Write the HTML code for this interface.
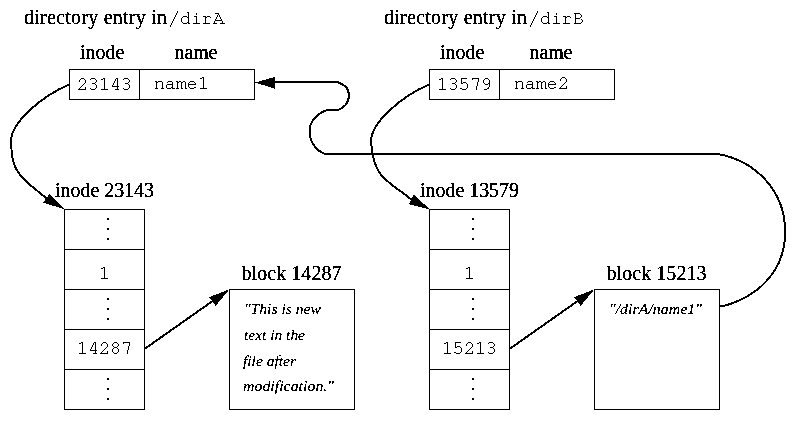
<!DOCTYPE html>
<html><head><meta charset="utf-8"><title>directory entries</title><style>
html,body{margin:0;padding:0;background:#fff;width:801px;height:421px;overflow:hidden}
svg{display:block;will-change:transform}
.s{font-family:"Liberation Serif",serif;font-size:20px;fill:#000;stroke:#000;stroke-width:0.3px;filter:url(#th)}
.i{font-family:"Liberation Serif",serif;font-style:italic;font-size:15.5px;fill:#000;stroke:#000;stroke-width:0.18px;filter:url(#th)}
.b{fill:none;stroke:#000;stroke-width:1}
.c{fill:none;stroke:#000;stroke-width:2;shape-rendering:crispEdges}
</style></head><body>
<svg width="801" height="421" viewBox="0 0 801 421">
<defs><filter id="th" x="-5%" y="-20%" width="110%" height="140%" color-interpolation-filters="sRGB"><feComponentTransfer><feFuncA type="discrete" tableValues="0 1"/></feComponentTransfer></filter></defs>
<rect x="0" y="0" width="801" height="421" fill="#fff"/>

<!-- ===== Left directory entry ===== -->
<g>
  <text class="s" x="24" y="24" textLength="143" lengthAdjust="spacing">directory entry in</text>
  <text class="s" x="80" y="59" textLength="44.5" lengthAdjust="spacing">inode</text>
  <text class="s" x="174.5" y="59" textLength="43" lengthAdjust="spacing">name</text>
  <g shape-rendering="crispEdges">
    <rect class="b" x="69.5" y="69.5" width="185" height="30"/>
    <line class="b" x1="139.5" y1="69.5" x2="139.5" y2="99.5"/>
  </g>
</g>

<!-- ===== Right directory entry ===== -->
<g transform="translate(360,0)">
  <text class="s" x="24" y="24" textLength="143" lengthAdjust="spacing">directory entry in</text>
  <text class="s" x="80" y="59" textLength="44.5" lengthAdjust="spacing">inode</text>
  <text class="s" x="169.5" y="59" textLength="43" lengthAdjust="spacing">name</text>
  <g shape-rendering="crispEdges">
    <rect class="b" x="69.5" y="69.5" width="185" height="30"/>
    <line class="b" x1="139.5" y1="69.5" x2="139.5" y2="99.5"/>
  </g>
</g>

<!-- ===== Left inode + block ===== -->
<g>
  <text class="s" x="55" y="197" textLength="99" lengthAdjust="spacing">inode 23143</text>
  <g shape-rendering="crispEdges">
    <rect class="b" x="64.5" y="209.5" width="80" height="200"/>
    <line class="b" x1="64.5" y1="249.5" x2="144.5" y2="249.5"/>
    <line class="b" x1="64.5" y1="289.5" x2="144.5" y2="289.5"/>
    <line class="b" x1="64.5" y1="329.5" x2="144.5" y2="329.5"/>
    <line class="b" x1="64.5" y1="369.5" x2="144.5" y2="369.5"/>
    <rect x="107" y="218" width="2" height="2"/><rect x="107" y="228" width="2" height="2"/><rect x="107" y="238" width="2" height="2"/>
    <rect x="107" y="298" width="2" height="2"/><rect x="107" y="308" width="2" height="2"/><rect x="107" y="318" width="2" height="2"/>
    <rect x="107" y="378" width="2" height="2"/><rect x="107" y="388" width="2" height="2"/><rect x="107" y="398" width="2" height="2"/>
    <rect class="b" x="229.5" y="289.5" width="125" height="120"/>
  </g>
  <text class="s" x="241.5" y="280" textLength="100" lengthAdjust="spacing">block 14287</text>
  <text class="i" x="244" y="314" textLength="77" lengthAdjust="spacingAndGlyphs">"This is new</text>
  <text class="i" x="244" y="340" textLength="61" lengthAdjust="spacingAndGlyphs">text in the</text>
  <text class="i" x="243" y="365.5" textLength="53" lengthAdjust="spacingAndGlyphs">file after</text>
  <text class="i" x="243" y="391" textLength="91" lengthAdjust="spacingAndGlyphs">modification."</text>
  <!-- arrow cell -> block -->
  <line class="c" x1="144.5" y1="349" x2="213" y2="300.8"/>
  <polygon shape-rendering="crispEdges" points="229.4,289.4 209,297.2 215.6,305.9"/>
</g>

<!-- ===== Right inode + block ===== -->
<g transform="translate(365,0)">
  <text class="s" x="55" y="197" textLength="99" lengthAdjust="spacing">inode 13579</text>
  <g shape-rendering="crispEdges">
    <rect class="b" x="64.5" y="209.5" width="80" height="200"/>
    <line class="b" x1="64.5" y1="249.5" x2="144.5" y2="249.5"/>
    <line class="b" x1="64.5" y1="289.5" x2="144.5" y2="289.5"/>
    <line class="b" x1="64.5" y1="329.5" x2="144.5" y2="329.5"/>
    <line class="b" x1="64.5" y1="369.5" x2="144.5" y2="369.5"/>
    <rect x="107" y="218" width="2" height="2"/><rect x="107" y="228" width="2" height="2"/><rect x="107" y="238" width="2" height="2"/>
    <rect x="107" y="298" width="2" height="2"/><rect x="107" y="308" width="2" height="2"/><rect x="107" y="318" width="2" height="2"/>
    <rect x="107" y="378" width="2" height="2"/><rect x="107" y="388" width="2" height="2"/><rect x="107" y="398" width="2" height="2"/>
    <rect class="b" x="229.5" y="289.5" width="125" height="120"/>
  </g>
  <text class="s" x="241.5" y="280" textLength="100" lengthAdjust="spacing">block 15213</text>
  <text class="i" x="244" y="314" textLength="93" lengthAdjust="spacingAndGlyphs">"/dirA/name1"</text>
  <line class="c" x1="144.5" y1="349" x2="213" y2="300.8"/>
  <polygon shape-rendering="crispEdges" points="229.4,289.4 209,297.2 215.6,305.9"/>
</g>

<!-- Courier bitmap text -->
<path d="M177 11h1v1h-1zM537 11h1v1h-1zM177 12h1v1h-1zM187 12h2v1h-2zM537 12h1v1h-1zM547 12h2v1h-2zM176 13h1v1h-1zM188 13h1v1h-1zM196 13h1v1h-1zM215 13h4v1h-4zM536 13h1v1h-1zM548 13h1v1h-1zM556 13h1v1h-1zM574 13h6v1h-6zM176 14h1v1h-1zM188 14h1v1h-1zM196 14h1v1h-1zM218 14h1v1h-1zM536 14h1v1h-1zM548 14h1v1h-1zM556 14h1v1h-1zM575 14h1v1h-1zM580 14h1v1h-1zM175 15h1v1h-1zM188 15h1v1h-1zM217 15h1v1h-1zM219 15h1v1h-1zM535 15h1v1h-1zM548 15h1v1h-1zM575 15h1v1h-1zM581 15h1v1h-1zM175 16h1v1h-1zM183 16h4v1h-4zM188 16h1v1h-1zM194 16h3v1h-3zM203 16h3v1h-3zM207 16h3v1h-3zM217 16h1v1h-1zM219 16h1v1h-1zM535 16h1v1h-1zM543 16h4v1h-4zM548 16h1v1h-1zM554 16h3v1h-3zM563 16h3v1h-3zM567 16h3v1h-3zM575 16h1v1h-1zM581 16h1v1h-1zM174 17h1v1h-1zM182 17h1v1h-1zM187 17h2v1h-2zM196 17h1v1h-1zM205 17h2v1h-2zM210 17h1v1h-1zM216 17h1v1h-1zM220 17h1v1h-1zM534 17h1v1h-1zM542 17h1v1h-1zM547 17h2v1h-2zM556 17h1v1h-1zM565 17h2v1h-2zM570 17h1v1h-1zM575 17h1v1h-1zM580 17h1v1h-1zM174 18h1v1h-1zM181 18h1v1h-1zM188 18h1v1h-1zM196 18h1v1h-1zM205 18h1v1h-1zM216 18h1v1h-1zM220 18h1v1h-1zM534 18h1v1h-1zM541 18h1v1h-1zM548 18h1v1h-1zM556 18h1v1h-1zM565 18h1v1h-1zM575 18h5v1h-5zM173 19h1v1h-1zM181 19h1v1h-1zM188 19h1v1h-1zM196 19h1v1h-1zM205 19h1v1h-1zM215 19h1v1h-1zM221 19h1v1h-1zM533 19h1v1h-1zM541 19h1v1h-1zM548 19h1v1h-1zM556 19h1v1h-1zM565 19h1v1h-1zM575 19h1v1h-1zM581 19h1v1h-1zM173 20h1v1h-1zM181 20h1v1h-1zM188 20h1v1h-1zM196 20h1v1h-1zM205 20h1v1h-1zM215 20h7v1h-7zM533 20h1v1h-1zM541 20h1v1h-1zM548 20h1v1h-1zM556 20h1v1h-1zM565 20h1v1h-1zM575 20h1v1h-1zM582 20h1v1h-1zM172 21h1v1h-1zM181 21h1v1h-1zM188 21h1v1h-1zM196 21h1v1h-1zM205 21h1v1h-1zM214 21h1v1h-1zM222 21h1v1h-1zM532 21h1v1h-1zM541 21h1v1h-1zM548 21h1v1h-1zM556 21h1v1h-1zM565 21h1v1h-1zM575 21h1v1h-1zM582 21h1v1h-1zM172 22h1v1h-1zM182 22h1v1h-1zM187 22h2v1h-2zM196 22h1v1h-1zM205 22h1v1h-1zM214 22h1v1h-1zM222 22h1v1h-1zM532 22h1v1h-1zM542 22h1v1h-1zM547 22h2v1h-2zM556 22h1v1h-1zM565 22h1v1h-1zM575 22h1v1h-1zM581 22h1v1h-1zM171 23h1v1h-1zM183 23h4v1h-4zM188 23h2v1h-2zM193 23h7v1h-7zM203 23h7v1h-7zM213 23h4v1h-4zM220 23h5v1h-5zM531 23h1v1h-1zM543 23h4v1h-4zM548 23h2v1h-2zM553 23h7v1h-7zM563 23h7v1h-7zM574 23h7v1h-7zM171 24h1v1h-1zM531 24h1v1h-1zM170 25h1v1h-1zM530 25h1v1h-1zM170 26h1v1h-1zM530 26h1v1h-1zM202 77h2v1h-2zM562 77h3v1h-3zM81 78h3v1h-3zM91 78h4v1h-4zM103 78h2v1h-2zM116 78h2v1h-2zM124 78h4v1h-4zM200 78h2v1h-2zM203 78h1v1h-1zM441 78h2v1h-2zM451 78h4v1h-4zM461 78h6v1h-6zM472 78h7v1h-7zM485 78h3v1h-3zM561 78h1v1h-1zM565 78h1v1h-1zM80 79h1v1h-1zM84 79h1v1h-1zM90 79h1v1h-1zM95 79h1v1h-1zM101 79h2v1h-2zM104 79h1v1h-1zM115 79h1v1h-1zM117 79h1v1h-1zM123 79h1v1h-1zM128 79h1v1h-1zM203 79h1v1h-1zM439 79h2v1h-2zM442 79h1v1h-1zM450 79h1v1h-1zM455 79h1v1h-1zM461 79h1v1h-1zM472 79h1v1h-1zM478 79h1v1h-1zM484 79h1v1h-1zM488 79h1v1h-1zM560 79h1v1h-1zM566 79h1v1h-1zM79 80h1v1h-1zM85 80h1v1h-1zM96 80h1v1h-1zM104 80h1v1h-1zM115 80h1v1h-1zM117 80h1v1h-1zM129 80h1v1h-1zM203 80h1v1h-1zM442 80h1v1h-1zM456 80h1v1h-1zM461 80h1v1h-1zM478 80h1v1h-1zM483 80h1v1h-1zM489 80h1v1h-1zM560 80h1v1h-1zM566 80h1v1h-1zM79 81h1v1h-1zM85 81h1v1h-1zM96 81h1v1h-1zM104 81h1v1h-1zM114 81h1v1h-1zM117 81h1v1h-1zM129 81h1v1h-1zM155 81h2v1h-2zM158 81h4v1h-4zM168 81h4v1h-4zM176 81h2v1h-2zM179 81h2v1h-2zM183 81h2v1h-2zM190 81h4v1h-4zM203 81h1v1h-1zM442 81h1v1h-1zM456 81h1v1h-1zM461 81h1v1h-1zM478 81h1v1h-1zM483 81h1v1h-1zM489 81h1v1h-1zM515 81h2v1h-2zM518 81h4v1h-4zM528 81h4v1h-4zM536 81h2v1h-2zM539 81h2v1h-2zM543 81h2v1h-2zM550 81h4v1h-4zM566 81h1v1h-1zM85 82h1v1h-1zM95 82h1v1h-1zM104 82h1v1h-1zM114 82h1v1h-1zM117 82h1v1h-1zM128 82h1v1h-1zM156 82h2v1h-2zM162 82h1v1h-1zM167 82h1v1h-1zM172 82h1v1h-1zM177 82h2v1h-2zM181 82h2v1h-2zM185 82h1v1h-1zM189 82h1v1h-1zM194 82h1v1h-1zM203 82h1v1h-1zM442 82h1v1h-1zM455 82h1v1h-1zM461 82h1v1h-1zM463 82h3v1h-3zM477 82h1v1h-1zM483 82h1v1h-1zM489 82h1v1h-1zM516 82h2v1h-2zM522 82h1v1h-1zM527 82h1v1h-1zM532 82h1v1h-1zM537 82h2v1h-2zM541 82h2v1h-2zM545 82h1v1h-1zM549 82h1v1h-1zM554 82h1v1h-1zM565 82h1v1h-1zM84 83h1v1h-1zM92 83h3v1h-3zM104 83h1v1h-1zM113 83h1v1h-1zM117 83h1v1h-1zM125 83h3v1h-3zM156 83h1v1h-1zM162 83h1v1h-1zM172 83h1v1h-1zM177 83h1v1h-1zM181 83h1v1h-1zM185 83h1v1h-1zM188 83h1v1h-1zM195 83h1v1h-1zM203 83h1v1h-1zM442 83h1v1h-1zM452 83h3v1h-3zM461 83h2v1h-2zM466 83h1v1h-1zM477 83h1v1h-1zM484 83h1v1h-1zM488 83h2v1h-2zM516 83h1v1h-1zM522 83h1v1h-1zM532 83h1v1h-1zM537 83h1v1h-1zM541 83h1v1h-1zM545 83h1v1h-1zM548 83h1v1h-1zM555 83h1v1h-1zM564 83h1v1h-1zM83 84h1v1h-1zM95 84h1v1h-1zM104 84h1v1h-1zM113 84h1v1h-1zM117 84h1v1h-1zM128 84h1v1h-1zM156 84h1v1h-1zM162 84h1v1h-1zM167 84h6v1h-6zM177 84h1v1h-1zM181 84h1v1h-1zM185 84h1v1h-1zM188 84h8v1h-8zM203 84h1v1h-1zM442 84h1v1h-1zM455 84h1v1h-1zM467 84h1v1h-1zM477 84h1v1h-1zM485 84h3v1h-3zM489 84h1v1h-1zM516 84h1v1h-1zM522 84h1v1h-1zM527 84h6v1h-6zM537 84h1v1h-1zM541 84h1v1h-1zM545 84h1v1h-1zM548 84h8v1h-8zM563 84h1v1h-1zM82 85h1v1h-1zM96 85h1v1h-1zM104 85h1v1h-1zM112 85h1v1h-1zM117 85h1v1h-1zM129 85h1v1h-1zM156 85h1v1h-1zM162 85h1v1h-1zM166 85h1v1h-1zM172 85h1v1h-1zM177 85h1v1h-1zM181 85h1v1h-1zM185 85h1v1h-1zM188 85h1v1h-1zM203 85h1v1h-1zM442 85h1v1h-1zM456 85h1v1h-1zM467 85h1v1h-1zM477 85h1v1h-1zM489 85h1v1h-1zM516 85h1v1h-1zM522 85h1v1h-1zM526 85h1v1h-1zM532 85h1v1h-1zM537 85h1v1h-1zM541 85h1v1h-1zM545 85h1v1h-1zM548 85h1v1h-1zM562 85h1v1h-1zM81 86h1v1h-1zM96 86h1v1h-1zM104 86h1v1h-1zM112 86h7v1h-7zM129 86h1v1h-1zM156 86h1v1h-1zM162 86h1v1h-1zM166 86h1v1h-1zM172 86h1v1h-1zM177 86h1v1h-1zM181 86h1v1h-1zM185 86h1v1h-1zM188 86h1v1h-1zM203 86h1v1h-1zM442 86h1v1h-1zM456 86h1v1h-1zM467 86h1v1h-1zM476 86h1v1h-1zM489 86h1v1h-1zM516 86h1v1h-1zM522 86h1v1h-1zM526 86h1v1h-1zM532 86h1v1h-1zM537 86h1v1h-1zM541 86h1v1h-1zM545 86h1v1h-1zM548 86h1v1h-1zM561 86h1v1h-1zM566 86h1v1h-1zM80 87h1v1h-1zM85 87h1v1h-1zM96 87h1v1h-1zM104 87h1v1h-1zM117 87h1v1h-1zM129 87h1v1h-1zM156 87h1v1h-1zM162 87h1v1h-1zM166 87h1v1h-1zM171 87h2v1h-2zM177 87h1v1h-1zM181 87h1v1h-1zM185 87h1v1h-1zM189 87h1v1h-1zM194 87h2v1h-2zM203 87h1v1h-1zM442 87h1v1h-1zM456 87h1v1h-1zM467 87h1v1h-1zM476 87h1v1h-1zM488 87h1v1h-1zM516 87h1v1h-1zM522 87h1v1h-1zM526 87h1v1h-1zM531 87h2v1h-2zM537 87h1v1h-1zM541 87h1v1h-1zM545 87h1v1h-1zM549 87h1v1h-1zM554 87h2v1h-2zM560 87h1v1h-1zM566 87h1v1h-1zM79 88h1v1h-1zM85 88h1v1h-1zM90 88h1v1h-1zM95 88h1v1h-1zM104 88h1v1h-1zM117 88h1v1h-1zM123 88h1v1h-1zM128 88h1v1h-1zM155 88h3v1h-3zM161 88h3v1h-3zM167 88h4v1h-4zM172 88h3v1h-3zM176 88h3v1h-3zM181 88h2v1h-2zM185 88h2v1h-2zM190 88h4v1h-4zM200 88h7v1h-7zM442 88h1v1h-1zM450 88h1v1h-1zM455 88h1v1h-1zM460 88h2v1h-2zM466 88h1v1h-1zM476 88h1v1h-1zM487 88h2v1h-2zM515 88h3v1h-3zM521 88h3v1h-3zM527 88h4v1h-4zM532 88h3v1h-3zM536 88h3v1h-3zM541 88h2v1h-2zM545 88h2v1h-2zM550 88h4v1h-4zM559 88h8v1h-8zM78 89h8v1h-8zM91 89h4v1h-4zM101 89h7v1h-7zM115 89h4v1h-4zM124 89h4v1h-4zM439 89h7v1h-7zM451 89h4v1h-4zM462 89h4v1h-4zM476 89h1v1h-1zM484 89h3v1h-3zM103 267h2v1h-2zM468 267h2v1h-2zM101 268h2v1h-2zM104 268h1v1h-1zM466 268h2v1h-2zM469 268h1v1h-1zM104 269h1v1h-1zM469 269h1v1h-1zM104 270h1v1h-1zM469 270h1v1h-1zM104 271h1v1h-1zM469 271h1v1h-1zM104 272h1v1h-1zM469 272h1v1h-1zM104 273h1v1h-1zM469 273h1v1h-1zM104 274h1v1h-1zM469 274h1v1h-1zM104 275h1v1h-1zM469 275h1v1h-1zM104 276h1v1h-1zM469 276h1v1h-1zM104 277h1v1h-1zM469 277h1v1h-1zM101 278h7v1h-7zM466 278h7v1h-7zM81 342h2v1h-2zM94 342h2v1h-2zM103 342h3v1h-3zM114 342h3v1h-3zM123 342h7v1h-7zM446 342h2v1h-2zM455 342h6v1h-6zM468 342h3v1h-3zM479 342h2v1h-2zM489 342h4v1h-4zM79 343h2v1h-2zM82 343h1v1h-1zM93 343h1v1h-1zM95 343h1v1h-1zM102 343h1v1h-1zM106 343h1v1h-1zM113 343h1v1h-1zM117 343h1v1h-1zM123 343h1v1h-1zM129 343h1v1h-1zM444 343h2v1h-2zM447 343h1v1h-1zM455 343h1v1h-1zM467 343h1v1h-1zM471 343h1v1h-1zM477 343h2v1h-2zM480 343h1v1h-1zM488 343h1v1h-1zM493 343h1v1h-1zM82 344h1v1h-1zM93 344h1v1h-1zM95 344h1v1h-1zM101 344h1v1h-1zM107 344h1v1h-1zM112 344h1v1h-1zM118 344h1v1h-1zM129 344h1v1h-1zM447 344h1v1h-1zM455 344h1v1h-1zM466 344h1v1h-1zM472 344h1v1h-1zM480 344h1v1h-1zM494 344h1v1h-1zM82 345h1v1h-1zM92 345h1v1h-1zM95 345h1v1h-1zM101 345h1v1h-1zM107 345h1v1h-1zM112 345h1v1h-1zM118 345h1v1h-1zM129 345h1v1h-1zM447 345h1v1h-1zM455 345h1v1h-1zM466 345h1v1h-1zM472 345h1v1h-1zM480 345h1v1h-1zM494 345h1v1h-1zM82 346h1v1h-1zM92 346h1v1h-1zM95 346h1v1h-1zM107 346h1v1h-1zM113 346h1v1h-1zM117 346h1v1h-1zM128 346h1v1h-1zM447 346h1v1h-1zM455 346h1v1h-1zM457 346h3v1h-3zM472 346h1v1h-1zM480 346h1v1h-1zM493 346h1v1h-1zM82 347h1v1h-1zM91 347h1v1h-1zM95 347h1v1h-1zM106 347h1v1h-1zM114 347h3v1h-3zM128 347h1v1h-1zM447 347h1v1h-1zM455 347h2v1h-2zM460 347h1v1h-1zM471 347h1v1h-1zM480 347h1v1h-1zM490 347h3v1h-3zM82 348h1v1h-1zM91 348h1v1h-1zM95 348h1v1h-1zM105 348h1v1h-1zM113 348h1v1h-1zM117 348h1v1h-1zM128 348h1v1h-1zM447 348h1v1h-1zM461 348h1v1h-1zM470 348h1v1h-1zM480 348h1v1h-1zM493 348h1v1h-1zM82 349h1v1h-1zM90 349h1v1h-1zM95 349h1v1h-1zM104 349h1v1h-1zM112 349h1v1h-1zM118 349h1v1h-1zM128 349h1v1h-1zM447 349h1v1h-1zM461 349h1v1h-1zM469 349h1v1h-1zM480 349h1v1h-1zM494 349h1v1h-1zM82 350h1v1h-1zM90 350h7v1h-7zM103 350h1v1h-1zM112 350h1v1h-1zM118 350h1v1h-1zM127 350h1v1h-1zM447 350h1v1h-1zM461 350h1v1h-1zM468 350h1v1h-1zM480 350h1v1h-1zM494 350h1v1h-1zM82 351h1v1h-1zM95 351h1v1h-1zM102 351h1v1h-1zM107 351h1v1h-1zM112 351h1v1h-1zM118 351h1v1h-1zM127 351h1v1h-1zM447 351h1v1h-1zM461 351h1v1h-1zM467 351h1v1h-1zM472 351h1v1h-1zM480 351h1v1h-1zM494 351h1v1h-1zM82 352h1v1h-1zM95 352h1v1h-1zM101 352h1v1h-1zM107 352h1v1h-1zM113 352h1v1h-1zM117 352h1v1h-1zM127 352h1v1h-1zM447 352h1v1h-1zM454 352h2v1h-2zM460 352h1v1h-1zM466 352h1v1h-1zM472 352h1v1h-1zM480 352h1v1h-1zM488 352h1v1h-1zM493 352h1v1h-1zM79 353h7v1h-7zM93 353h4v1h-4zM100 353h8v1h-8zM114 353h3v1h-3zM127 353h1v1h-1zM444 353h7v1h-7zM456 353h4v1h-4zM465 353h8v1h-8zM477 353h7v1h-7zM489 353h4v1h-4z" fill="#000" shape-rendering="crispEdges"/>

<!-- ===== Curves ===== -->
<!-- dirA entry -> inode 23143 -->
<path class="c" d="M69.2 84.6 C44.6 94.7 6 123.8 11.4 146.5 C10.5 175.9 31.4 184.5 46.3 198.4"/>
<polygon shape-rendering="crispEdges" points="65,209.4 49.5,194.1 43.1,202.6"/>
<!-- dirB entry -> inode 13579 -->
<path class="c" d="M429.2 84.6 C404.6 94.7 366 123.8 371.6 146.5 C374.4 179.3 389.3 181.1 411.2 199.5"/>
<polygon shape-rendering="crispEdges" points="430,209.4 413.8,194.8 408.6,204.2"/>
<!-- symlink block -> name1 -->
<path class="c" d="M719.5 306.6 C731.3 305.3 784.7 288.7 785.2 232 C785.2 191.3 756.5 161.3 718 154 H327 C321.8 154 309.4 145.8 309.8 132 C308.4 121.4 319.7 111.3 328 110 H338 C344.8 107 349 103.5 348.8 95 C349 87.9 344.8 84.9 337.5 82 H272"/>
<polygon shape-rendering="crispEdges" points="255,82.5 275,76.8 275,88.8"/>
</svg>
</body></html>
